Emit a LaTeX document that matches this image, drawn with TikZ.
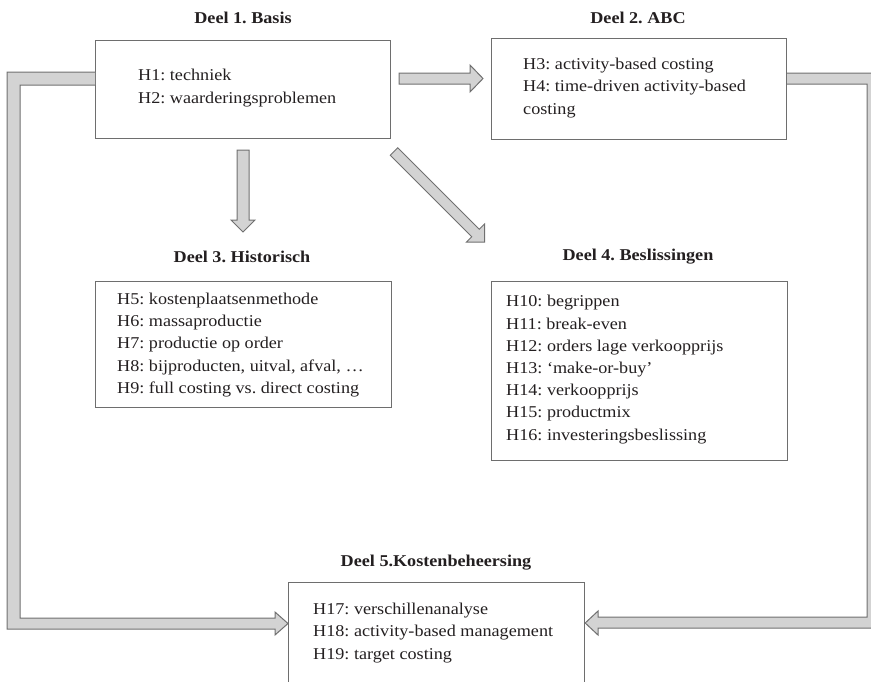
\documentclass[tikz,border=0pt]{standalone}
\usepackage{fontspec}
\setmainfont{Liberation Serif}[FakeStretch=1.1]
\usetikzlibrary{calc}
\definecolor{boxline}{HTML}{6E6E6E}
\definecolor{arrfill}{HTML}{D3D3D3}
\definecolor{arrline}{HTML}{707070}
\definecolor{ink}{HTML}{231F20}
\tikzset{
  box/.style={draw=boxline, line width=1.2pt, rectangle, inner sep=0pt, anchor=north west},
  txt/.style={anchor=west, align=left, inner sep=0pt, text=ink, font=\fontsize{16.5}{22.2}\selectfont},
  ttl/.style={inner sep=0pt, text=ink, font=\fontsize{16.5}{20}\selectfont\bfseries},
  blockarrow/.style={fill=arrfill, draw=arrline, line width=1pt, line join=miter}
}
\frenchspacing
\begin{document}
\frenchspacing
\begin{tikzpicture}[x=1pt,y=-1pt]
\useasboundingbox (0,0) rectangle (871,681);
\clip (0,0) rectangle (871,681);

% boxes
\node[box, minimum width=295pt, minimum height=98pt] (b1) at (95,40) {};
\node[box, minimum width=295pt, minimum height=101pt] (b2) at (491,38) {};
\node[box, minimum width=296pt, minimum height=126pt] (b3) at (95,281) {};
\node[box, minimum width=296pt, minimum height=179pt] (b4) at (491,281) {};
\node[box, minimum width=296pt, minimum height=130pt] (b5) at (288,582) {};

% titles
\node[ttl] (t1) at (243,18) {Deel 1. Basis};
\node[ttl] (t2) at (638,18) {Deel 2. ABC};
\node[ttl] (t3) at (242,257) {Deel 3. Historisch};
\node[ttl] (t4) at (638,257) {Deel 4. Beslissingen};
\node[ttl] (t5) at (436,563) {Deel 5.Kostenbeheersing};

% contents
\node[txt] (c1) at (138,88) {H1: techniek\\H2: waarderingsproblemen};
\node[txt] (c2) at (523,88) {H3: activity-based costing\\H4: time-driven activity-based\\costing};
\node[txt] (c3) at (117,345) {H5: kostenplaatsenmethode\\H6: massaproductie\\H7: productie op order\\H8: bijproducten, uitval, afval, \dots\\H9: full costing vs. direct costing};
\node[txt] (c4) at (506,369.5) {H10: begrippen\\H11: break-even\\H12: orders lage verkoopprijs\\H13: `make-or-buy'\\H14: verkoopprijs\\H15: productmix\\H16: investeringsbeslissing};
\node[txt] (c5) at (313,633) {H17: verschillenanalyse\\H18: activity-based management\\H19: target costing};

% arrow Deel 1 -> Deel 2
\draw[blockarrow] (399,73) -- (470,73) -- (470,65) -- (483,78.5) -- (470,92) -- (470,84) -- (399,84) -- cycle;
% arrow Deel 1 -> Deel 3
\draw[blockarrow] (237,150) -- (249,150) -- (249,220) -- (255,220) -- (243,232) -- (231,220) -- (237,220) -- cycle;
% arrow Deel 1 -> Deel 4 (diagonal)
\draw[blockarrow] (397.75,147.75) -- (479.25,229.25) -- (484.5,224) -- (484.5,242) -- (466.5,242) -- (471.75,236.75) -- (390.25,155.25) -- cycle;
% loop Deel 1 -> Deel 5
\draw[blockarrow] (b1.west |- 0,72) -- (7,72) -- (7,629) -- (275,629) -- (275,635) -- (b5.west |- 0,623.5) -- (275,612) -- (275,618) -- (20,618) -- (20,85) -- (b1.west |- 0,85);
% loop Deel 2 -> Deel 5
\draw[blockarrow] (b2.east |- 0,73) -- (879,73) -- (879,628) -- (598,628) -- (598,635) -- (b5.east |- 0,623) -- (598,611) -- (598,617) -- (867,617) -- (867,84) -- (b2.east |- 0,84);
\end{tikzpicture}
\end{document}
